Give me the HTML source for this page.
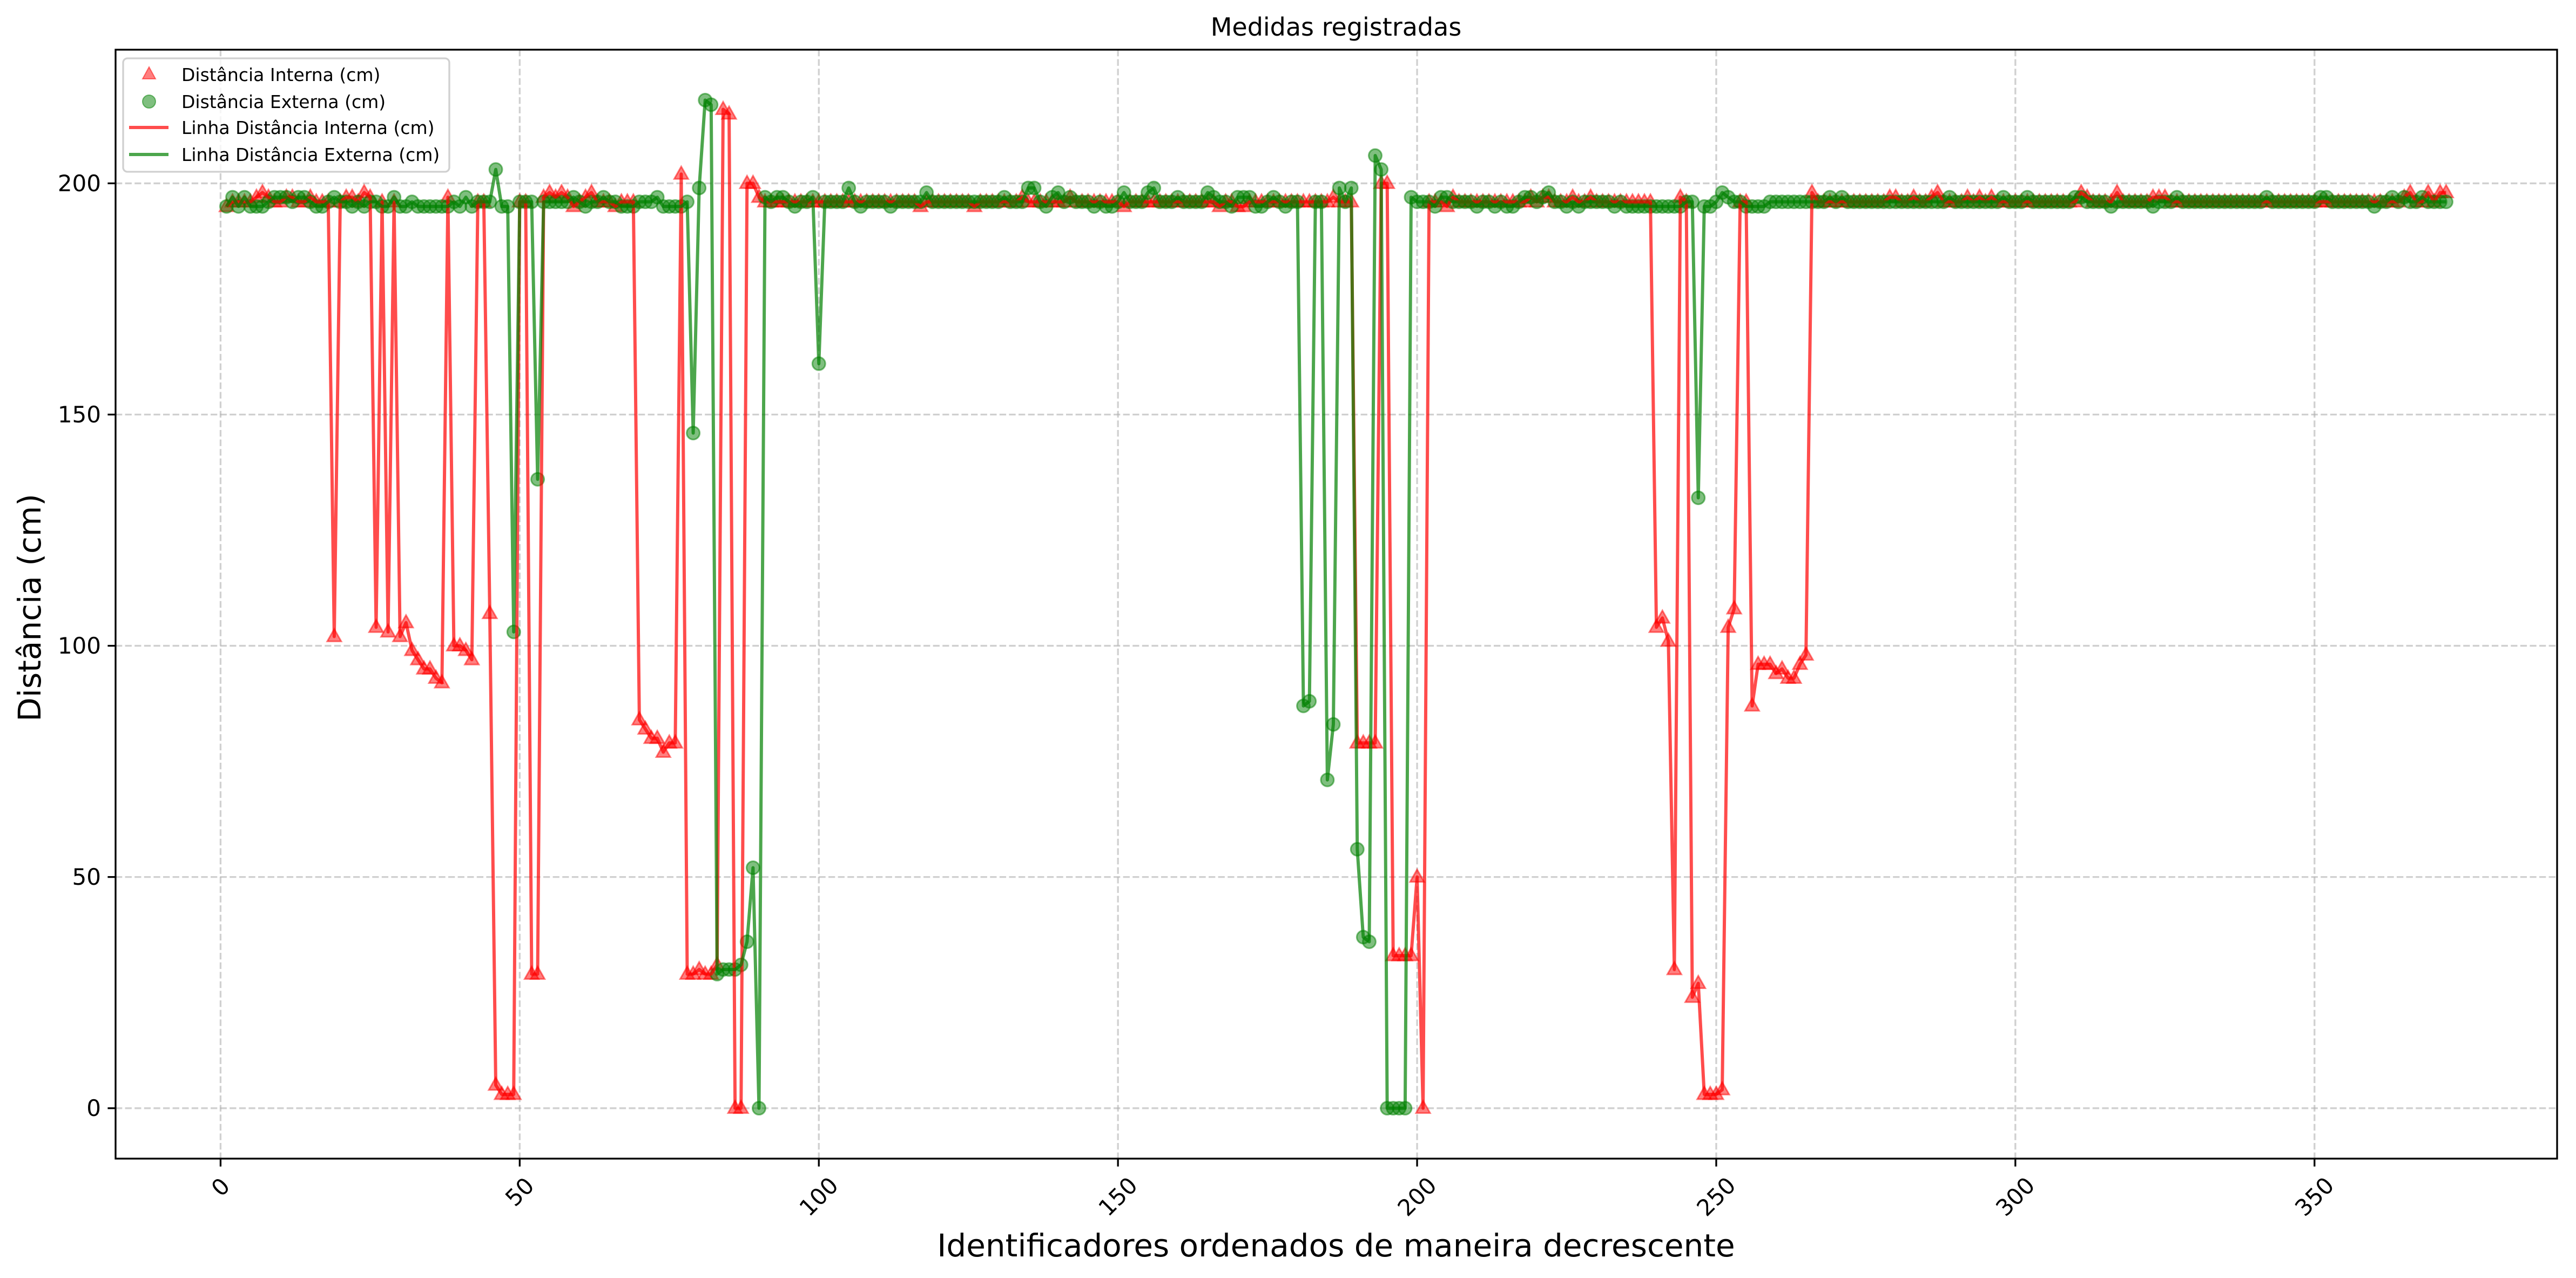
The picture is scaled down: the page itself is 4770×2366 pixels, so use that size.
<!DOCTYPE html>
<html><head><meta charset="utf-8"><style>
html,body{margin:0;padding:0;background:#fff;}
svg{display:block;font-family:"DejaVu Sans","Liberation Sans",sans-serif;}
</style></head><body>
<svg id="chart" width="4770" height="2366" viewBox="0 0 4770 2366" xmlns="http://www.w3.org/2000/svg">
<rect width="4770" height="2366" fill="#fff"/>
<g id="grid"></g>
<g id="marks"></g>
<rect x="214" y="92" width="4521" height="2053" fill="none" stroke="#000" stroke-width="3.3"/>
<g id="ticks"></g>
<text x="2474" y="66" font-size="46" text-anchor="middle">Medidas registradas</text>
<text x="2474" y="2326" font-size="58" text-anchor="middle">Identificadores ordenados de maneira decrescente</text>
<text transform="translate(75,1125) rotate(-90)" font-size="58" text-anchor="middle">Distância (cm)</text>
<g>
<rect x="228" y="108" width="604" height="210" rx="8" fill="#fff" fill-opacity="0.8" stroke="#d0d0d0" stroke-width="3.3"/>
<polygon points="276,124 264,146 288,146" fill="rgba(255,0,0,0.5)" stroke="rgba(255,0,0,0.5)" stroke-width="2"/>
<text x="336" y="150" font-size="33">Distância Interna (cm)</text>
<circle cx="276" cy="188" r="12" fill="rgba(0,128,0,0.5)" stroke="rgba(0,128,0,0.5)" stroke-width="2"/>
<text x="336" y="200" font-size="33">Distância Externa (cm)</text>
<line x1="239" y1="236" x2="312" y2="236" stroke="#ff0000" stroke-opacity="0.7" stroke-width="6"/>
<text x="336" y="248" font-size="33">Linha Distância Interna (cm)</text>
<line x1="239" y1="286" x2="312" y2="286" stroke="#008000" stroke-opacity="0.7" stroke-width="6"/>
<text x="336" y="298" font-size="33">Linha Distância Externa (cm)</text>
</g>
</svg>
<script>
const xTicks = [0,50,100,150,200,250,300,350];
const yTicks = [0,50,100,150,200];
const interna = [
195,196,196,196,196,197,198,197,196,196,
197,197,196,196,197,196,196,196,102,196,
197,197,196,198,197,104,196,103,196,102,
105,99,97,95,95,93,92,197,100,100,
99,97,196,196,107,5,3,3,3,196,
196,29,29,197,198,197,198,197,195,196,
197,198,196,196,196,195,196,196,196,84,
82,80,80,77,79,79,202,29,29,30,
29,29,31,216,215,0,0,200,200,197,
196,196,196,196,196,196,196,196,196,196,
196,196,196,196,196,196,196,196,196,196,
196,196,196,196,196,196,195,196,196,196,
196,196,196,196,196,195,196,196,196,196,
196,196,196,197,196,196,196,196,196,196,
196,197,196,196,196,196,196,196,196,196,
195,196,196,196,196,196,196,196,196,196,
196,196,196,196,196,196,195,196,196,195,
195,196,196,196,196,196,196,196,196,196,
196,196,196,196,196,197,196,196,196,79,
79,79,79,200,200,33,33,33,33,50,
0,196,196,196,195,197,196,196,196,196,
196,196,196,196,196,196,196,196,197,196,
197,197,196,196,196,197,196,196,197,196,
196,196,196,196,196,196,196,196,196,104,
106,101,30,197,196,24,27,3,3,3,
4,104,108,196,196,87,96,96,96,94,
95,93,93,96,98,198,196,196,196,196,
196,196,196,196,196,196,196,196,197,197,
196,196,197,196,196,197,198,196,196,196,
196,197,196,197,196,197,196,196,196,196,
196,196,196,196,196,196,196,196,196,196,
198,197,196,196,196,196,198,196,196,196,
196,196,197,197,197,196,196,196,196,196,
196,196,196,196,196,196,196,196,196,196,
196,196,196,196,196,196,196,196,196,196,
196,196,196,196,196,196,196,196,196,196,
196,196,196,196,197,198,196,196,198,196,
198,198];
const externa = [
195,197,195,197,195,195,195,196,197,197,
197,196,197,197,196,195,195,196,197,196,
196,195,196,195,196,196,195,195,197,195,
195,196,195,195,195,195,195,195,196,195,
197,195,196,196,196,203,195,195,103,196,
196,196,136,196,196,196,196,196,197,196,
195,196,196,197,196,196,195,195,195,196,
196,196,197,195,195,195,195,196,146,199,
218,217,29,30,30,30,31,36,52,0,
197,196,197,197,196,195,196,196,197,161,
196,196,196,196,199,196,195,196,196,196,
196,195,196,196,196,196,196,198,196,196,
196,196,196,196,196,196,196,196,196,196,
197,196,196,196,199,199,196,195,197,198,
196,197,196,196,196,195,196,195,195,196,
198,196,196,196,198,199,196,196,196,197,
196,196,196,196,198,197,196,196,195,197,
197,197,195,195,196,197,196,195,196,196,
87,88,196,196,71,83,199,196,199,56,
37,36,206,203,0,0,0,0,197,196,
196,196,195,197,197,196,196,196,196,195,
196,196,195,196,195,195,196,197,197,196,
197,198,196,196,195,196,195,196,196,196,
196,196,195,196,195,195,195,195,195,195,
195,195,195,195,196,196,132,195,195,196,
198,197,196,196,195,195,195,195,196,196,
196,196,196,196,196,196,196,196,197,196,
197,196,196,196,196,196,196,196,196,196,
196,196,196,196,196,196,196,196,197,196,
196,196,196,196,196,196,196,197,196,196,
196,197,196,196,196,196,196,196,196,197,
197,196,196,196,196,195,196,196,196,196,
196,196,195,196,196,196,197,196,196,196,
196,196,196,196,196,196,196,196,196,196,
196,197,196,196,196,196,196,196,196,196,
197,197,196,196,196,196,196,196,196,195,
196,196,197,196,197,196,196,197,196,196,
196,196];

const L=214,R=4735,T=92,B=2145;
const XMIN=-17.55,XMAX=390.55,YMIN=-10.9,YMAX=228.9;
function sx(v){return L+(v-XMIN)/(XMAX-XMIN)*(R-L);}
function sy(v){return B-(v-YMIN)/(YMAX-YMIN)*(B-T);}
const NS="http://www.w3.org/2000/svg";
function mk(tag,attrs,parent){const e=document.createElementNS(NS,tag);for(const k in attrs)e.setAttribute(k,attrs[k]);parent.appendChild(e);return e;}
const grid=document.getElementById('grid'),ticks=document.getElementById('ticks'),marks=document.getElementById('marks');
xTicks.forEach(t=>{
  const x=sx(t);
  const g=mk('line',{x1:x,x2:x,y1:T,y2:B,stroke:'#b0b0b0','stroke-opacity':0.6,'stroke-width':3.3,'stroke-dasharray':'12.3 5.3'},grid);
  
  
  const tk=mk('line',{x1:x,x2:x,y1:B,y2:B+14.6,stroke:'#000','stroke-width':3.3},ticks);
  
  
  const cy=B+29+(String(t).length*25+42)*0.3536;
  const tx=mk('text',{x:x,y:cy,'font-size':42,'text-anchor':'middle','dominant-baseline':'central',transform:`rotate(-45 ${x} ${cy})`},ticks);
  tx.textContent=t;
  
  
});
yTicks.forEach(t=>{
  const y=sy(t);
  const g=mk('line',{x1:L,x2:R,y1:y,y2:y,stroke:'#b0b0b0','stroke-opacity':0.6,'stroke-width':3.3,'stroke-dasharray':'12.3 5.3'},grid);
  
  
  const tk=mk('line',{x1:L-14.6,x2:L,y1:y,y2:y,stroke:'#000','stroke-width':3.3},ticks);
  
  
  const tx=mk('text',{x:L-27,y:y,'font-size':42,'text-anchor':'end','dominant-baseline':'central'},ticks);
  tx.textContent=t;
  
  
});
// scatter interna
interna.forEach((v,i)=>{
  const x=sx(i+1),y=sy(v);
  const p=mk('polygon',{points:`${x},${y-14} ${x-13},${y+9} ${x+13},${y+9}`,fill:'rgba(255,0,0,0.5)',stroke:'rgba(255,0,0,0.5)','stroke-width':3},marks);
  
  
});
externa.forEach((v,i)=>{
  const c=mk('circle',{cx:sx(i+1),cy:sy(v),r:12,fill:'rgba(0,128,0,0.5)',stroke:'rgba(0,128,0,0.5)','stroke-width':3},marks);
  
  
});
const l1=mk('polyline',{points:interna.map((v,i)=>sx(i+1)+','+sy(v)).join(' '),fill:'none',stroke:'#ff0000','stroke-opacity':0.7,'stroke-width':6,'stroke-linejoin':'round'},marks);


const l2=mk('polyline',{points:externa.map((v,i)=>sx(i+1)+','+sy(v)).join(' '),fill:'none',stroke:'#008000','stroke-opacity':0.7,'stroke-width':6,'stroke-linejoin':'round'},marks);


</script>
</body></html>
